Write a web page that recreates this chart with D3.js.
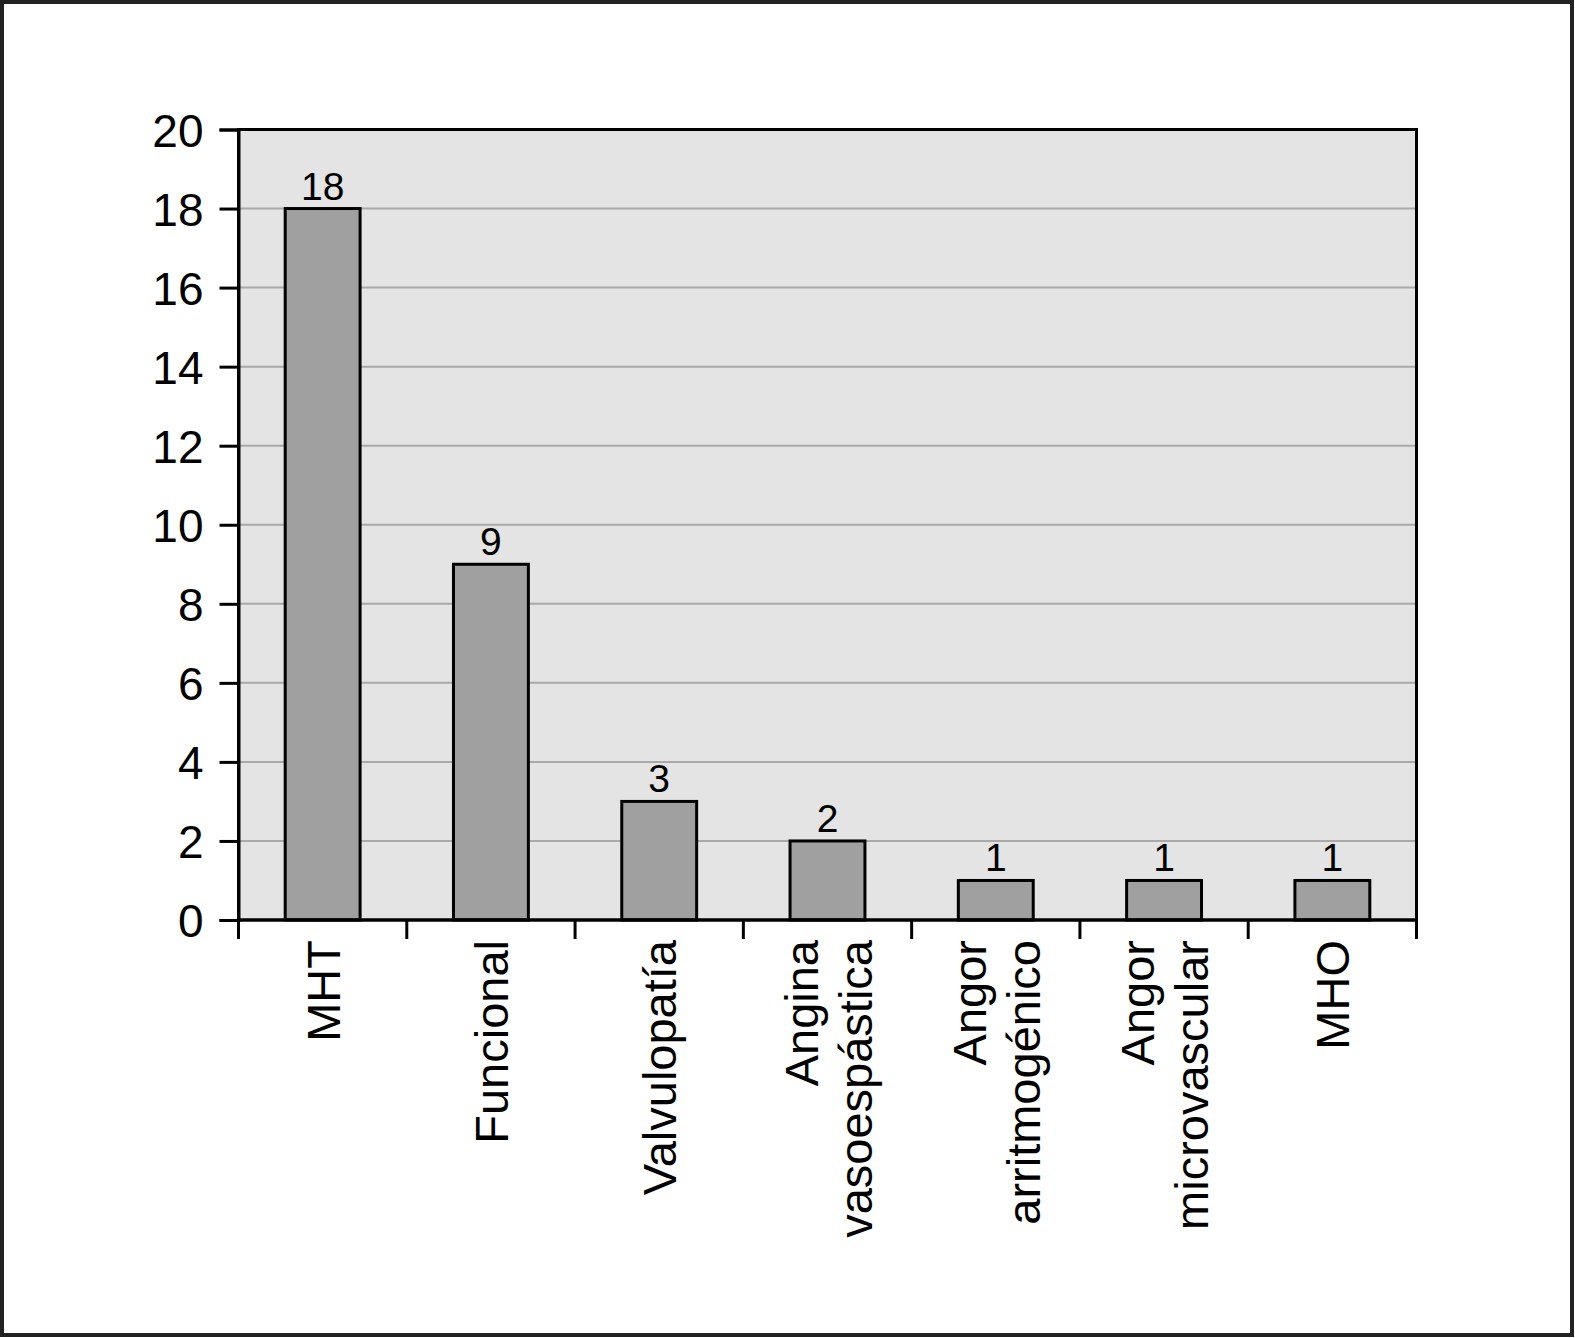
<!DOCTYPE html>
<html>
<head>
<meta charset="utf-8">
<script src="https://cdn.jsdelivr.net/npm/d3@7"></script>
<style>
  html, body { margin: 0; padding: 0; background: #fff; }
  svg { display: block; }
  text { font-family: "Liberation Sans", Arial, Helvetica, sans-serif; fill: #000; }
</style>
</head>
<body>
<svg id="chart" width="1575" height="1338"></svg>
<script>
// Data
const categories = [
  ["MHT"],
  ["Funcional"],
  ["Valvulopatía"],
  ["Angina", "vasoespástica"],
  ["Angor", "arritmogénico"],
  ["Angor", "microvascular"],
  ["MHO"]
];
const values = [18, 9, 3, 2, 1, 1, 1];
const yTicks = [0, 2, 4, 6, 8, 10, 12, 14, 16, 18, 20];

const W = 1575, H = 1338;
const plot = { left: 238.5, right: 1416.5, top: 129.5, bottom: 920 };

const svg = d3.select("#chart");

// outer frame
svg.append("rect")
  .attr("x", 2).attr("y", 2).attr("width", W - 5).attr("height", H - 5)
  .attr("fill", "#fff").attr("stroke", "#222").attr("stroke-width", 4);

const keys = categories.map((c, i) => i);
const x = d3.scaleBand().domain(keys).range([plot.left, plot.right]).paddingInner(0).paddingOuter(0);
const y = d3.scaleLinear().domain([0, 20]).range([plot.bottom, plot.top]);

// plot background
svg.append("rect")
  .attr("x", plot.left).attr("y", plot.top)
  .attr("width", plot.right - plot.left).attr("height", plot.bottom - plot.top)
  .attr("fill", "#e4e4e4");

// gridlines
svg.append("g").selectAll("line")
  .data(yTicks.filter(t => t > 0 && t < 20))
  .join("line")
  .attr("x1", plot.left).attr("x2", plot.right)
  .attr("y1", d => y(d)).attr("y2", d => y(d))
  .attr("stroke", "#a9a9a9").attr("stroke-width", 2);

// bars
const barW = x.bandwidth() * 0.445;
svg.append("g").selectAll("rect")
  .data(values)
  .join("rect")
  .attr("x", (d, i) => x(i) + x.bandwidth() / 2 - barW / 2)
  .attr("y", d => y(d))
  .attr("width", barW)
  .attr("height", d => y(0) - y(d))
  .attr("fill", "#a0a0a0")
  .attr("stroke", "#000").attr("stroke-width", 3);

// value labels
svg.append("g").selectAll("text")
  .data(values)
  .join("text")
  .attr("x", (d, i) => x(i) + x.bandwidth() / 2)
  .attr("y", d => y(d) - 9)
  .attr("text-anchor", "middle")
  .attr("font-size", 39)
  .text(d => d);

// plot frame (top, right)
svg.append("rect")
  .attr("x", plot.left).attr("y", plot.top)
  .attr("width", plot.right - plot.left).attr("height", plot.bottom - plot.top)
  .attr("fill", "none").attr("stroke", "#000").attr("stroke-width", 3);

// y axis
const yAxis = d3.axisLeft(y).tickValues(yTicks).tickSize(19).tickPadding(16).tickFormat(d3.format("d"));
const gy = svg.append("g").attr("transform", `translate(${plot.left},0)`).call(yAxis);
gy.select(".domain").attr("stroke", "#000").attr("stroke-width", 3);
gy.selectAll(".tick line").attr("stroke", "#000").attr("stroke-width", 3);
gy.selectAll(".tick text")
  .attr("font-size", 46)
  .attr("font-family", '"Liberation Sans", Arial, Helvetica, sans-serif')
  .attr("fill", "#000")
  .attr("dy", "0.36em");

// x axis baseline
svg.append("line")
  .attr("x1", plot.left).attr("x2", plot.right)
  .attr("y1", plot.bottom).attr("y2", plot.bottom)
  .attr("stroke", "#000").attr("stroke-width", 3);

// x ticks at band boundaries
const boundaries = keys.map(k => x(k)).concat([plot.right]);
svg.append("g").selectAll("line")
  .data(boundaries)
  .join("line")
  .attr("x1", d => d).attr("x2", d => d)
  .attr("y1", plot.bottom).attr("y2", plot.bottom + 19)
  .attr("stroke", "#000").attr("stroke-width", 3);

// x labels (rotated)
const lineGap = 54;
const xl = svg.append("g").selectAll("g")
  .data(categories)
  .join("g")
  .attr("transform", (d, i) => `translate(${x(i) + x.bandwidth() / 2},940) rotate(-90)`);
xl.each(function(lines) {
  const g = d3.select(this);
  const n = lines.length;
  lines.forEach((t, j) => {
    const off = (j - (n - 1) / 2) * lineGap + 17;
    g.append("text")
      .attr("x", 0)
      .attr("y", off)
      .attr("text-anchor", "end")
      .attr("font-size", 47)
      .text(t);
  });
});
</script>
</body>
</html>
